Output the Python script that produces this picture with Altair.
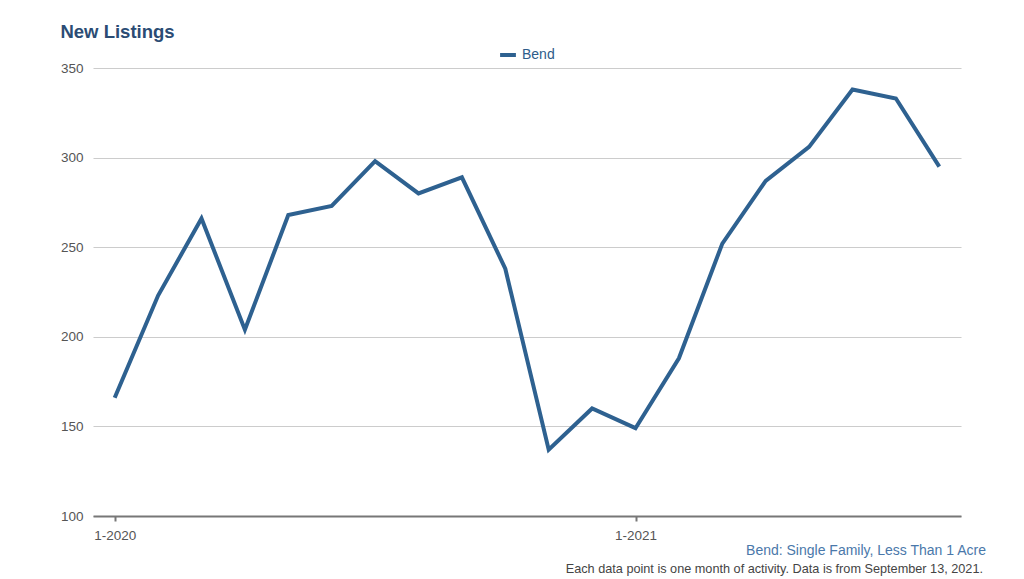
import altair as alt
import pandas as pd

# ---- data ----
months = ["1-2020", "2-2020", "3-2020", "4-2020", "5-2020", "6-2020", "7-2020",
          "8-2020", "9-2020", "10-2020", "11-2020", "12-2020", "1-2021", "2-2021",
          "3-2021", "4-2021", "5-2021", "6-2021", "7-2021", "8-2021"]
new_listings = [166, 223, 266, 204, 268, 273, 298, 280, 289, 238,
                137, 160, 149, 188, 252, 287, 306, 338, 333, 295]
series_name = "Bend"
x_tick_positions = [0, 12]
x_tick_labels = ["1-2020", "1-2021"]
y_ticks = [100, 150, 200, 250, 300, 350]
title_text = "New Listings"
note_line1 = "Bend: Single Family, Less Than 1 Acre"
note_line2 = "Each data point is one month of activity. Data is from September 13, 2021."

df = pd.DataFrame({
    "idx": list(range(len(months))),
    "month": months,
    "value": new_listings,
    "series": [series_name] * len(months),
})

label_expr = " : ".join(
    f"datum.value == {p} ? '{l}'" for p, l in zip(x_tick_positions, x_tick_labels)
) + " : ''"

FONT = "Liberation Sans"
LINE_COLOR = "#2e6190"

line = alt.Chart(df).mark_line(strokeWidth=4, color=LINE_COLOR, strokeJoin="miter").encode(
    x=alt.X("idx:Q",
            scale=alt.Scale(domain=[-0.5, 19.5], nice=False, zero=False),
            axis=alt.Axis(values=x_tick_positions, labelExpr=label_expr, title=None,
                          grid=False, domainColor="#777777", domainWidth=2,
                          tickColor="#777777", tickWidth=2, tickSize=5,
                          labelColor="#555555", labelFontSize=13.5, labelFont=FONT,
                          labelPadding=7)),
    y=alt.Y("value:Q",
            scale=alt.Scale(domain=[100, 350], nice=False, zero=False),
            axis=alt.Axis(values=y_ticks, title=None, domain=False, ticks=False,
                          gridColor="#cccccc", gridWidth=1.2,
                          labelColor="#555555", labelFontSize=13.5, labelFont=FONT,
                          labelPadding=10)),
    color=alt.Color("series:N",
                    scale=alt.Scale(range=[LINE_COLOR]),
                    legend=alt.Legend(title=None, orient="none", legendX=405, legendY=-23,
                                      symbolType="stroke", symbolStrokeWidth=4,
                                      symbolSize=250, labelFont=FONT, labelFontSize=14,
                                      labelColor="#2e5c8a")),
)

notes = pd.DataFrame({"t1": [note_line1], "t2": [note_line2]})
note1 = alt.Chart(notes).mark_text(align="right", baseline="middle", font=FONT,
                                   fontSize=14, color="#4a78aa").encode(
    text="t1:N", x=alt.value(893), y=alt.value(483))
note2 = alt.Chart(notes).mark_text(align="right", baseline="middle", font=FONT,
                                   fontSize=12.7, color="#444444").encode(
    text="t2:N", x=alt.value(890), y=alt.value(501))

chart = alt.layer(line, note1, note2).properties(
    width=868, height=448,
    padding={"left": 85, "top": 60, "right": 40, "bottom": 62},
    autosize=alt.AutoSizeParams(type="none"),
    title=alt.TitleParams(title_text, anchor="start", offset=4,
                          font=FONT, fontSize=18.5, fontWeight="bold", color="#2b4c74"),
).configure_view(stroke=None)

chart.save("out.html", embed_options={"renderer": "svg", "actions": False})
